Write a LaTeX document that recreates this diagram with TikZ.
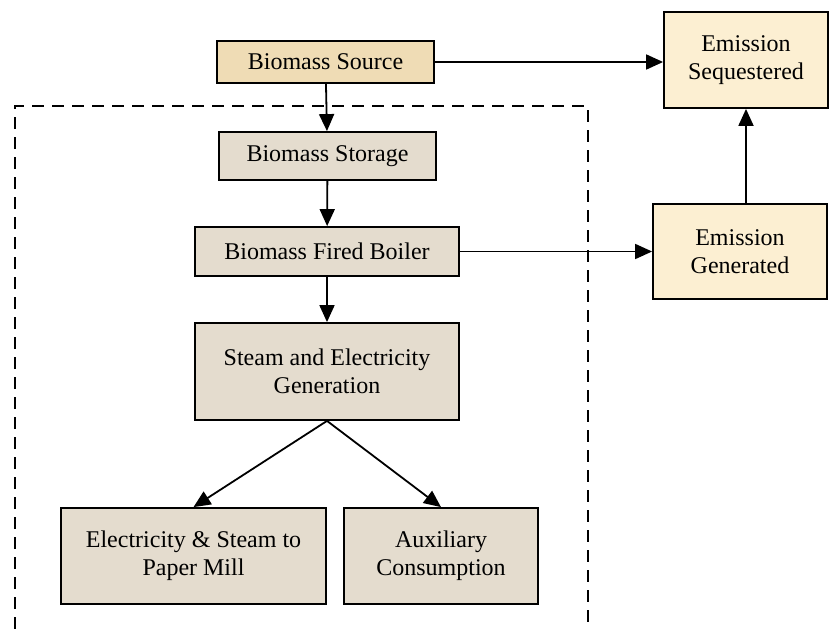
\documentclass[tikz,border=0pt]{standalone}
\usepackage{fontspec}
\setmainfont{Liberation Serif}
\usetikzlibrary{arrows.meta}
\definecolor{srcfill}{HTML}{EFDCB5}
\definecolor{emfill}{HTML}{FCEFD2}
\definecolor{plantfill}{HTML}{E4DCCE}
\begin{document}
\begin{tikzpicture}[x=1pt,y=-1pt,
    box/.style={draw,line width=1.8pt,align=center,inner sep=0pt,
        font=\fontsize{24}{28}\selectfont},
    plant/.style={box,fill=plantfill},
    emis/.style={box,fill=emfill},
    flow/.style={line width=1.8pt,-{Triangle[length=17pt,width=15pt]}}]
    \useasboundingbox (0,0) rectangle (839,629);
    % boundary of the mill
    \draw[line width=2.6pt,dash pattern=on 12pt off 8pt] (15,629) -- (15,106) -- (588,106) -- (588,629);
    \node[box,fill=srcfill,minimum width=217,minimum height=42] (src) at (325.5,62) {Biomass Source};
    \node[emis,minimum width=164,minimum height=96] (seq) at (746,60) {Emission\\Sequestered};
    \node[emis,minimum width=174,minimum height=95] (gen) at (740,251.5) {Emission\\Generated};
    \node[plant,minimum width=217,minimum height=48] (store) at (327.5,156) {Biomass Storage};
    \node[plant,minimum width=264,minimum height=49] (boil) at (327,251.5) {Biomass Fired Boiler};
    \node[plant,minimum width=264,minimum height=97] (steam) at (327,371.5) {Steam and Electricity\\Generation};
    \node[plant,minimum width=265,minimum height=96] (mill) at (193.5,556) {Electricity \& Steam to\\Paper Mill};
    \node[plant,minimum width=194,minimum height=96] (aux) at (441,556) {Auxiliary\\Consumption};
    \draw[flow] (src) -- (store);
    \draw[flow] (store) -- (boil);
    \draw[flow] (boil) -- (steam);
    \draw[flow] (steam.south) -- (mill.north);
    \draw[flow] (steam.south) -- (aux.north);
    \draw[flow] (src.east) -- (src.east -| seq.west);
    \draw[flow] (boil.east) -- (boil.east -| gen.west);
    \draw[flow] (gen.north -| seq.south) -- (seq.south);
\end{tikzpicture}
\end{document}
